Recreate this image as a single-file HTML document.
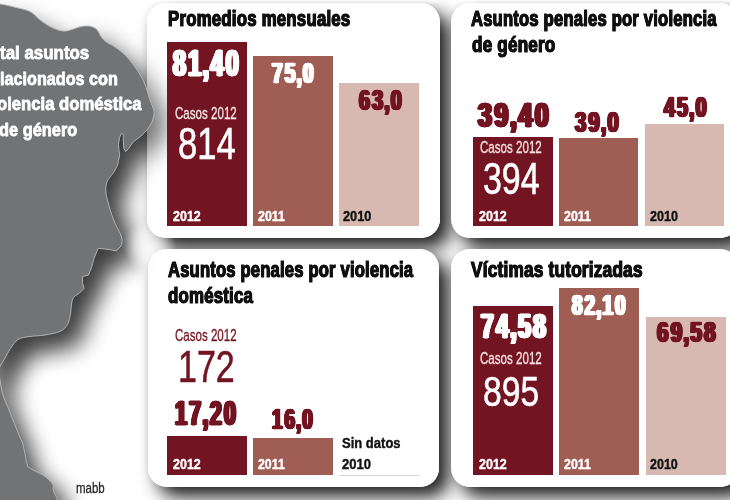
<!DOCTYPE html>
<html><head><meta charset="utf-8"><title>Violencia doméstica y de género</title>
<style>
html,body{margin:0;padding:0;background:#fff}
#c{position:relative;width:730px;height:500px;overflow:hidden;background:#fff;font-family:"Liberation Sans",sans-serif}
.t{position:absolute;white-space:nowrap;line-height:1;transform-origin:0 0;margin:0}
.b{position:absolute}
.p{position:absolute;background:#fff;border-radius:19px}
.ps{position:absolute;border-radius:19px;box-shadow:10px 10px 18px rgba(0,0,0,.88),0 0 7px rgba(0,0,0,.07)}
svg{position:absolute;left:0;top:0}
</style></head><body>
<div id="c">
<svg width="730" height="500" viewBox="0 0 730 500">
<defs><filter id="ds" x="-20%" y="-10%" width="180%" height="130%">
<feGaussianBlur in="SourceAlpha" stdDeviation="12"/><feOffset dx="13" dy="13"/>
<feComponentTransfer><feFuncA type="linear" slope="0.5"/></feComponentTransfer></filter>
<filter id="ds2" x="-20%" y="-10%" width="180%" height="130%">
<feGaussianBlur in="SourceAlpha" stdDeviation="12"/><feOffset dx="13" dy="13"/>
<feComponentTransfer><feFuncA type="linear" slope="0.55"/></feComponentTransfer></filter>
<linearGradient id="mg" x1="0" y1="0" x2="0" y2="500" gradientUnits="userSpaceOnUse"><stop offset="0.02" stop-color="#fff" stop-opacity="0.35"/><stop offset="0.22" stop-color="#fff" stop-opacity="1"/></linearGradient>
<radialGradient id="rg" cx="149" cy="246" r="26" gradientUnits="userSpaceOnUse"><stop offset="0" stop-color="#000" stop-opacity="0.75"/><stop offset="0.45" stop-color="#000" stop-opacity="0.6"/><stop offset="1" stop-color="#000" stop-opacity="0"/></radialGradient>
<mask id="mk" maskUnits="userSpaceOnUse" x="0" y="0" width="730" height="500"><rect x="0" y="0" width="730" height="500" fill="url(#mg)"/><rect x="110" y="210" width="80" height="80" fill="url(#rg)"/></mask></defs>
<g mask="url(#mk)"><path d="M-20,2 C-16.7,2.3 -6.0,3.1 0,4 C6.0,4.9 11.0,6.2 16,7.5 C21.0,8.8 26.1,9.5 30,11.5 C33.9,13.5 36.3,17.1 39.5,19.5 C42.7,21.9 45.8,24.2 49,26 C52.2,27.8 56.2,29.5 59,30.3 C61.8,31.1 63.5,31.2 66,31 C68.5,30.8 71.3,29.6 74,28.8 C76.7,28.0 79.2,26.7 82,26.3 C84.8,25.9 88.0,25.8 90.5,26.3 C93.0,26.9 95.4,28.1 97,29.6 C98.6,31.1 99.0,33.4 100.3,35.3 C101.6,37.2 102.5,39.0 105,41 C107.5,43.0 111.7,44.7 115,47 C118.3,49.3 121.7,51.7 125,55 C128.3,58.3 131.8,62.5 135,67 C138.2,71.5 141.5,76.5 144,82 C146.5,87.5 148.4,95.3 150,100 C151.6,104.7 153.2,107.3 153.8,110 C154.4,112.7 154.2,113.8 153.8,116 C153.4,118.2 152.6,120.8 151.4,123.2 C150.2,125.6 148.4,128.2 146.6,130.4 C144.8,132.6 142.8,134.5 140.6,136.4 C138.4,138.3 135.4,139.8 133.4,141.8 C131.4,143.8 129.9,146.8 128.6,148.4 L125.6,151.6 L123.9,148.4 L123.3,141.2 L123.2,134.2 L121.4,133.4 L119.6,137.6 L118.4,144.8 L119,150.8 C119.2,152.6 119.7,154.0 119.6,155.6 C119.5,157.2 118.8,158.8 118.4,160.4 C118.0,162.1 118.1,163.5 117.3,165.5 C116.5,167.5 115.1,170.2 113.5,172.6 C111.9,175.0 109.1,177.8 107.8,180.2 C106.5,182.6 106.2,184.4 105.9,186.9 C105.7,189.4 105.8,192.4 106.3,195.4 C106.8,198.4 107.9,201.7 108.8,204.9 C109.7,208.1 110.5,211.2 111.6,214.4 C112.7,217.6 114.0,220.7 115.4,223.9 C116.8,227.1 119.1,230.7 120.2,233.4 C121.3,236.1 121.9,238.0 122.1,240.1 C122.2,242.2 122.0,244.0 121.1,245.8 L116.4,250.9 L109.7,249.6 L98.3,248.3 L94.5,257 C93.4,260.2 92.5,264.5 91.5,267.5 L88.5,275 L82.5,276.5 L82.5,282.5 L84,288.5 L79.5,293 C77.8,294.5 74.8,295.5 73.5,297.5 C72.2,299.5 71.9,302.2 71.4,305 C70.9,307.8 71.2,310.8 70.5,314 C69.8,317.2 69.2,321.6 67.5,324.5 C65.8,327.4 63.8,329.6 60,331.4 C56.2,333.1 50.0,334.1 45,335 C40.0,335.9 34.5,335.8 30,336.5 C25.5,337.2 21.2,337.5 18,339.5 C14.8,341.5 12.8,345.2 10.5,348.5 C8.2,351.8 6.3,356.0 4.5,359 C2.7,362.0 1.1,364.2 -0.125,366.5 C-1.3,368.8 -2.2,370.8 -2.75,373 C-3.3,375.2 -3.6,376.3 -3.5,380 C-3.4,383.7 -3.2,390.0 -2,395 C-0.8,400.0 2.3,405.8 4,410 C5.7,414.2 6.3,415.8 8,420 C9.7,424.2 12.3,430.9 14,435 C15.7,439.1 16.8,440.2 18,444.7 C19.2,449.2 20.7,458.3 21.5,462 L23,467 L31,471.5 C33.7,473.0 36.6,473.9 39.4,476 C42.2,478.1 46.1,481.6 47.6,484 C49.1,486.4 47.6,488.0 48.4,490.7 C49.2,493.4 51.4,495.9 52.5,500 C53.6,504.1 54.6,512.5 55,515 L-20,515Z" fill="#000" filter="url(#ds)"/></g>
</svg>
<div class="ps" style="left:147px;top:2.5px;width:292.5px;height:235.8px"></div><div class="ps" style="left:451.3px;top:2.5px;width:287.5px;height:235.8px"></div><div class="ps" style="left:148px;top:248.7px;width:291.3px;height:238.3px"></div><div class="ps" style="left:451.3px;top:248.7px;width:287.5px;height:238.3px"></div>
<div class="b" style="left:128px;top:222px;width:48px;height:48px;background:radial-gradient(circle closest-side,rgba(255,255,255,.55) 0,rgba(255,255,255,.4) 45%,rgba(255,255,255,0) 100%)"></div>
<div class="p" style="left:147px;top:2.5px;width:292.5px;height:235.8px"></div><div class="p" style="left:451.3px;top:2.5px;width:287.5px;height:235.8px"></div><div class="p" style="left:148px;top:248.7px;width:291.3px;height:238.3px"></div><div class="p" style="left:451.3px;top:248.7px;width:287.5px;height:238.3px"></div>
<svg width="730" height="500" viewBox="0 0 730 500">
<g mask="url(#mk)"><path d="M-20,2 C-16.7,2.3 -6.0,3.1 0,4 C6.0,4.9 11.0,6.2 16,7.5 C21.0,8.8 26.1,9.5 30,11.5 C33.9,13.5 36.3,17.1 39.5,19.5 C42.7,21.9 45.8,24.2 49,26 C52.2,27.8 56.2,29.5 59,30.3 C61.8,31.1 63.5,31.2 66,31 C68.5,30.8 71.3,29.6 74,28.8 C76.7,28.0 79.2,26.7 82,26.3 C84.8,25.9 88.0,25.8 90.5,26.3 C93.0,26.9 95.4,28.1 97,29.6 C98.6,31.1 99.0,33.4 100.3,35.3 C101.6,37.2 102.5,39.0 105,41 C107.5,43.0 111.7,44.7 115,47 C118.3,49.3 121.7,51.7 125,55 C128.3,58.3 131.8,62.5 135,67 C138.2,71.5 141.5,76.5 144,82 C146.5,87.5 148.4,95.3 150,100 C151.6,104.7 153.2,107.3 153.8,110 C154.4,112.7 154.2,113.8 153.8,116 C153.4,118.2 152.6,120.8 151.4,123.2 C150.2,125.6 148.4,128.2 146.6,130.4 C144.8,132.6 142.8,134.5 140.6,136.4 C138.4,138.3 135.4,139.8 133.4,141.8 C131.4,143.8 129.9,146.8 128.6,148.4 L125.6,151.6 L123.9,148.4 L123.3,141.2 L123.2,134.2 L121.4,133.4 L119.6,137.6 L118.4,144.8 L119,150.8 C119.2,152.6 119.7,154.0 119.6,155.6 C119.5,157.2 118.8,158.8 118.4,160.4 C118.0,162.1 118.1,163.5 117.3,165.5 C116.5,167.5 115.1,170.2 113.5,172.6 C111.9,175.0 109.1,177.8 107.8,180.2 C106.5,182.6 106.2,184.4 105.9,186.9 C105.7,189.4 105.8,192.4 106.3,195.4 C106.8,198.4 107.9,201.7 108.8,204.9 C109.7,208.1 110.5,211.2 111.6,214.4 C112.7,217.6 114.0,220.7 115.4,223.9 C116.8,227.1 119.1,230.7 120.2,233.4 C121.3,236.1 121.9,238.0 122.1,240.1 C122.2,242.2 122.0,244.0 121.1,245.8 L116.4,250.9 L109.7,249.6 L98.3,248.3 L94.5,257 C93.4,260.2 92.5,264.5 91.5,267.5 L88.5,275 L82.5,276.5 L82.5,282.5 L84,288.5 L79.5,293 C77.8,294.5 74.8,295.5 73.5,297.5 C72.2,299.5 71.9,302.2 71.4,305 C70.9,307.8 71.2,310.8 70.5,314 C69.8,317.2 69.2,321.6 67.5,324.5 C65.8,327.4 63.8,329.6 60,331.4 C56.2,333.1 50.0,334.1 45,335 C40.0,335.9 34.5,335.8 30,336.5 C25.5,337.2 21.2,337.5 18,339.5 C14.8,341.5 12.8,345.2 10.5,348.5 C8.2,351.8 6.3,356.0 4.5,359 C2.7,362.0 1.1,364.2 -0.125,366.5 C-1.3,368.8 -2.2,370.8 -2.75,373 C-3.3,375.2 -3.6,376.3 -3.5,380 C-3.4,383.7 -3.2,390.0 -2,395 C-0.8,400.0 2.3,405.8 4,410 C5.7,414.2 6.3,415.8 8,420 C9.7,424.2 12.3,430.9 14,435 C15.7,439.1 16.8,440.2 18,444.7 C19.2,449.2 20.7,458.3 21.5,462 L23,467 L31,471.5 C33.7,473.0 36.6,473.9 39.4,476 C42.2,478.1 46.1,481.6 47.6,484 C49.1,486.4 47.6,488.0 48.4,490.7 C49.2,493.4 51.4,495.9 52.5,500 C53.6,504.1 54.6,512.5 55,515 L-20,515Z" fill="#000" filter="url(#ds2)"/></g>
<path d="M-20,2 C-16.7,2.3 -6.0,3.1 0,4 C6.0,4.9 11.0,6.2 16,7.5 C21.0,8.8 26.1,9.5 30,11.5 C33.9,13.5 36.3,17.1 39.5,19.5 C42.7,21.9 45.8,24.2 49,26 C52.2,27.8 56.2,29.5 59,30.3 C61.8,31.1 63.5,31.2 66,31 C68.5,30.8 71.3,29.6 74,28.8 C76.7,28.0 79.2,26.7 82,26.3 C84.8,25.9 88.0,25.8 90.5,26.3 C93.0,26.9 95.4,28.1 97,29.6 C98.6,31.1 99.0,33.4 100.3,35.3 C101.6,37.2 102.5,39.0 105,41 C107.5,43.0 111.7,44.7 115,47 C118.3,49.3 121.7,51.7 125,55 C128.3,58.3 131.8,62.5 135,67 C138.2,71.5 141.5,76.5 144,82 C146.5,87.5 148.4,95.3 150,100 C151.6,104.7 153.2,107.3 153.8,110 C154.4,112.7 154.2,113.8 153.8,116 C153.4,118.2 152.6,120.8 151.4,123.2 C150.2,125.6 148.4,128.2 146.6,130.4 C144.8,132.6 142.8,134.5 140.6,136.4 C138.4,138.3 135.4,139.8 133.4,141.8 C131.4,143.8 129.9,146.8 128.6,148.4 L125.6,151.6 L123.9,148.4 L123.3,141.2 L123.2,134.2 L121.4,133.4 L119.6,137.6 L118.4,144.8 L119,150.8 C119.2,152.6 119.7,154.0 119.6,155.6 C119.5,157.2 118.8,158.8 118.4,160.4 C118.0,162.1 118.1,163.5 117.3,165.5 C116.5,167.5 115.1,170.2 113.5,172.6 C111.9,175.0 109.1,177.8 107.8,180.2 C106.5,182.6 106.2,184.4 105.9,186.9 C105.7,189.4 105.8,192.4 106.3,195.4 C106.8,198.4 107.9,201.7 108.8,204.9 C109.7,208.1 110.5,211.2 111.6,214.4 C112.7,217.6 114.0,220.7 115.4,223.9 C116.8,227.1 119.1,230.7 120.2,233.4 C121.3,236.1 121.9,238.0 122.1,240.1 C122.2,242.2 122.0,244.0 121.1,245.8 L116.4,250.9 L109.7,249.6 L98.3,248.3 L94.5,257 C93.4,260.2 92.5,264.5 91.5,267.5 L88.5,275 L82.5,276.5 L82.5,282.5 L84,288.5 L79.5,293 C77.8,294.5 74.8,295.5 73.5,297.5 C72.2,299.5 71.9,302.2 71.4,305 C70.9,307.8 71.2,310.8 70.5,314 C69.8,317.2 69.2,321.6 67.5,324.5 C65.8,327.4 63.8,329.6 60,331.4 C56.2,333.1 50.0,334.1 45,335 C40.0,335.9 34.5,335.8 30,336.5 C25.5,337.2 21.2,337.5 18,339.5 C14.8,341.5 12.8,345.2 10.5,348.5 C8.2,351.8 6.2,356.0 4.5,359 C2.8,362.0 0.9,364.2 0,366.5 C-0.9,368.8 -1.0,370.8 -1,373 C-1.0,375.2 -0.7,376.3 0,380 C0.7,383.7 1.5,390.0 3,395 C4.5,400.0 7.3,405.8 9,410 C10.7,414.2 11.3,415.8 13,420 C14.7,424.2 17.3,430.9 19,435 C20.7,439.1 21.8,440.2 23,444.7 C24.2,449.2 25.7,458.3 26.5,462 L28,467 L36,471.5 C38.7,473.0 41.6,473.9 44.4,476 C47.2,478.1 51.1,481.6 52.6,484 C54.1,486.4 52.6,488.0 53.4,490.7 C54.2,493.4 56.4,495.9 57.5,500 C58.6,504.1 59.6,512.5 60,515 L-20,515Z" fill="#727375" stroke="#bcbcbc" stroke-width="0.9" stroke-linejoin="round"/>
</svg>
<div class="b" style="left:167px;top:42px;width:79.8px;height:184.3px;background:#731422"></div><div class="b" style="left:253.1px;top:56.2px;width:79.8px;height:170.1px;background:#a05d54"></div><div class="b" style="left:339.3px;top:83.4px;width:79.3px;height:142.9px;background:#d7b9b1"></div><div class="b" style="left:472.6px;top:136.6px;width:80px;height:89.7px;background:#731422"></div><div class="b" style="left:558.5px;top:138px;width:79.6px;height:88.3px;background:#a05d54"></div><div class="b" style="left:644.7px;top:124px;width:79.6px;height:102.3px;background:#d7b9b1"></div><div class="b" style="left:167px;top:436.2px;width:79.6px;height:38.4px;background:#731422"></div><div class="b" style="left:253px;top:438.3px;width:80px;height:36.3px;background:#a05d54"></div><div class="b" style="left:338.5px;top:474.6px;width:81px;height:1px;background:#d9d9d9"></div><div class="b" style="left:473px;top:305.7px;width:80px;height:169px;background:#731422"></div><div class="b" style="left:559.3px;top:288.4px;width:80px;height:186.3px;background:#a05d54"></div><div class="b" style="left:645.5px;top:317px;width:80px;height:157.7px;background:#d7b9b1"></div><div class="t" style="left:168.06px;top:7px;font-size:21.16px;line-height:23px;transform:scaleX(0.7955);color:#111;font-weight:bold;-webkit-text-stroke:1.2px #111;letter-spacing:0.25px;text-shadow:0.35px 0 0 #111,-0.35px 0 0 #111;">Promedios mensuales</div><div class="t" style="left:471.43px;top:7px;font-size:21.16px;line-height:23px;transform:scaleX(0.7850);color:#111;font-weight:bold;-webkit-text-stroke:1.2px #111;letter-spacing:0.25px;text-shadow:0.35px 0 0 #111,-0.35px 0 0 #111;">Asuntos penales por violencia</div><div class="t" style="left:471.58px;top:33px;font-size:21.16px;line-height:23px;transform:scaleX(0.8079);color:#111;font-weight:bold;-webkit-text-stroke:1.2px #111;letter-spacing:0.25px;text-shadow:0.35px 0 0 #111,-0.35px 0 0 #111;">de género</div><div class="t" style="left:168.33px;top:258px;font-size:21.16px;line-height:23px;transform:scaleX(0.7838);color:#111;font-weight:bold;-webkit-text-stroke:1.2px #111;letter-spacing:0.25px;text-shadow:0.35px 0 0 #111,-0.35px 0 0 #111;">Asuntos penales por violencia</div><div class="t" style="left:168.28px;top:284px;font-size:21.16px;line-height:23px;transform:scaleX(0.7960);color:#111;font-weight:bold;-webkit-text-stroke:1.2px #111;letter-spacing:0.25px;text-shadow:0.35px 0 0 #111,-0.35px 0 0 #111;">doméstica</div><div class="t" style="left:471.10px;top:258px;font-size:21.16px;line-height:23px;transform:scaleX(0.8147);color:#111;font-weight:bold;-webkit-text-stroke:1.2px #111;letter-spacing:0.25px;text-shadow:0.35px 0 0 #111,-0.35px 0 0 #111;">Víctimas tutorizadas</div><div class="t" style="left:173.45px;top:42px;font-size:37.14px;line-height:42px;transform:scaleX(0.6249);color:#fff;font-weight:bold;-webkit-text-stroke:0.8px #fff;letter-spacing:3.6px;text-shadow:0.48px 0 0 #fff,-0.48px 0 0 #fff,0.96px 0 0 #fff,-0.96px 0 0 #fff,1.44px 0 0 #fff,-1.44px 0 0 #fff,1.92px 0 0 #fff,-1.92px 0 0 #fff,2.40px 0 0 #fff,-2.40px 0 0 #fff;">81<span style="margin:0 -1.2px">,</span>40</div><div class="t" style="left:272.34px;top:57px;font-size:28.71px;line-height:32px;transform:scaleX(0.6692);color:#fff;font-weight:bold;-webkit-text-stroke:0.7px #fff;letter-spacing:3.0px;text-shadow:0.47px 0 0 #fff,-0.47px 0 0 #fff,0.95px 0 0 #fff,-0.95px 0 0 #fff,1.42px 0 0 #fff,-1.42px 0 0 #fff,1.90px 0 0 #fff,-1.90px 0 0 #fff;">75<span style="margin:0 -1.4px">,</span>0</div><div class="t" style="left:359.36px;top:84px;font-size:28.71px;line-height:32px;transform:scaleX(0.6895);color:#731422;font-weight:bold;-webkit-text-stroke:0.7px #731422;letter-spacing:3.0px;text-shadow:0.47px 0 0 #731422,-0.47px 0 0 #731422,0.95px 0 0 #731422,-0.95px 0 0 #731422,1.42px 0 0 #731422,-1.42px 0 0 #731422,1.90px 0 0 #731422,-1.90px 0 0 #731422;">63<span style="margin:0 -1.4px">,</span>0</div><div class="t" style="left:478.22px;top:95px;font-size:35.86px;line-height:40px;transform:scaleX(0.6949);color:#731422;font-weight:bold;-webkit-text-stroke:0.8px #731422;letter-spacing:3.6px;text-shadow:0.48px 0 0 #731422,-0.48px 0 0 #731422,0.96px 0 0 #731422,-0.96px 0 0 #731422,1.44px 0 0 #731422,-1.44px 0 0 #731422,1.92px 0 0 #731422,-1.92px 0 0 #731422,2.40px 0 0 #731422,-2.40px 0 0 #731422;">39<span style="margin:0 -1.2px">,</span>40</div><div class="t" style="left:574.58px;top:106px;font-size:28.71px;line-height:32px;transform:scaleX(0.7050);color:#731422;font-weight:bold;-webkit-text-stroke:0.7px #731422;letter-spacing:3.0px;text-shadow:0.47px 0 0 #731422,-0.47px 0 0 #731422,0.95px 0 0 #731422,-0.95px 0 0 #731422,1.42px 0 0 #731422,-1.42px 0 0 #731422,1.90px 0 0 #731422,-1.90px 0 0 #731422;">39<span style="margin:0 -1.4px">,</span>0</div><div class="t" style="left:664.15px;top:91px;font-size:28.71px;line-height:32px;transform:scaleX(0.6849);color:#731422;font-weight:bold;-webkit-text-stroke:0.7px #731422;letter-spacing:3.0px;text-shadow:0.47px 0 0 #731422,-0.47px 0 0 #731422,0.95px 0 0 #731422,-0.95px 0 0 #731422,1.42px 0 0 #731422,-1.42px 0 0 #731422,1.90px 0 0 #731422,-1.90px 0 0 #731422;">45<span style="margin:0 -1.4px">,</span>0</div><div class="t" style="left:174.68px;top:393px;font-size:35.86px;line-height:40px;transform:scaleX(0.5982);color:#731422;font-weight:bold;-webkit-text-stroke:0.8px #731422;letter-spacing:3.6px;text-shadow:0.48px 0 0 #731422,-0.48px 0 0 #731422,0.96px 0 0 #731422,-0.96px 0 0 #731422,1.44px 0 0 #731422,-1.44px 0 0 #731422,1.92px 0 0 #731422,-1.92px 0 0 #731422,2.40px 0 0 #731422,-2.40px 0 0 #731422;">17<span style="margin:0 -1.2px">,</span>20</div><div class="t" style="left:272.35px;top:403px;font-size:28.71px;line-height:32px;transform:scaleX(0.6563);color:#731422;font-weight:bold;-webkit-text-stroke:0.7px #731422;letter-spacing:3.0px;text-shadow:0.47px 0 0 #731422,-0.47px 0 0 #731422,0.95px 0 0 #731422,-0.95px 0 0 #731422,1.42px 0 0 #731422,-1.42px 0 0 #731422,1.90px 0 0 #731422,-1.90px 0 0 #731422;">16<span style="margin:0 -1.4px">,</span>0</div><div class="t" style="left:481.46px;top:306px;font-size:35.86px;line-height:40px;transform:scaleX(0.6370);color:#fff;font-weight:bold;-webkit-text-stroke:0.8px #fff;letter-spacing:3.6px;text-shadow:0.48px 0 0 #fff,-0.48px 0 0 #fff,0.96px 0 0 #fff,-0.96px 0 0 #fff,1.44px 0 0 #fff,-1.44px 0 0 #fff,1.92px 0 0 #fff,-1.92px 0 0 #fff,2.40px 0 0 #fff,-2.40px 0 0 #fff;">74<span style="margin:0 -1.2px">,</span>58</div><div class="t" style="left:572.12px;top:289px;font-size:28.71px;line-height:32px;transform:scaleX(0.6613);color:#fff;font-weight:bold;-webkit-text-stroke:0.7px #fff;letter-spacing:3.0px;text-shadow:0.47px 0 0 #fff,-0.47px 0 0 #fff,0.95px 0 0 #fff,-0.95px 0 0 #fff,1.42px 0 0 #fff,-1.42px 0 0 #fff,1.90px 0 0 #fff,-1.90px 0 0 #fff;">82<span style="margin:0 -1.4px">,</span>10</div><div class="t" style="left:657.10px;top:316px;font-size:28.71px;line-height:32px;transform:scaleX(0.7223);color:#731422;font-weight:bold;-webkit-text-stroke:0.7px #731422;letter-spacing:3.0px;text-shadow:0.47px 0 0 #731422,-0.47px 0 0 #731422,0.95px 0 0 #731422,-0.95px 0 0 #731422,1.42px 0 0 #731422,-1.42px 0 0 #731422,1.90px 0 0 #731422,-1.90px 0 0 #731422;">69<span style="margin:0 -1.4px">,</span>58</div><div class="t" style="left:174.73px;top:104px;font-size:16.43px;line-height:18px;transform:scaleX(0.7045);color:#f4e3e1;-webkit-text-stroke:0.3px #f4e3e1;">Casos 2012</div><div class="t" style="left:480.23px;top:138px;font-size:16.29px;line-height:18px;transform:scaleX(0.7106);color:#f4e3e1;-webkit-text-stroke:0.3px #f4e3e1;">Casos 2012</div><div class="t" style="left:175.23px;top:326px;font-size:16.29px;line-height:18px;transform:scaleX(0.7083);color:#731422;-webkit-text-stroke:0.3px #731422;">Casos 2012</div><div class="t" style="left:480.23px;top:349px;font-size:16.29px;line-height:18px;transform:scaleX(0.7106);color:#f4e3e1;-webkit-text-stroke:0.3px #f4e3e1;">Casos 2012</div><div class="t" style="left:177.58px;top:120px;font-size:43.57px;line-height:48px;transform:scaleX(0.7942);color:#fff;-webkit-text-stroke:0.6px #fff;">814</div><div class="t" style="left:482.88px;top:155px;font-size:43.57px;line-height:48px;transform:scaleX(0.7789);color:#fff;-webkit-text-stroke:0.6px #fff;">394</div><div class="t" style="left:177.79px;top:343px;font-size:43.57px;line-height:48px;transform:scaleX(0.7799);color:#731422;-webkit-text-stroke:0.6px #731422;">172</div><div class="t" style="left:482.72px;top:367px;font-size:43.43px;line-height:48px;transform:scaleX(0.7758);color:#fff;-webkit-text-stroke:0.6px #fff;">895</div><div class="t" style="left:173.04px;top:208px;font-size:14.43px;line-height:16px;transform:scaleX(0.8657);color:#fff;font-weight:bold;-webkit-text-stroke:0.4px #fff;">2012</div><div class="t" style="left:258.34px;top:208px;font-size:14.43px;line-height:16px;transform:scaleX(0.8624);color:#fff;font-weight:bold;-webkit-text-stroke:0.4px #fff;">2011</div><div class="t" style="left:343.13px;top:208px;font-size:14.43px;line-height:16px;transform:scaleX(0.8847);color:#111;font-weight:bold;-webkit-text-stroke:0.4px #111;">2010</div><div class="t" style="left:478.94px;top:208px;font-size:14.43px;line-height:16px;transform:scaleX(0.8657);color:#fff;font-weight:bold;-webkit-text-stroke:0.4px #fff;">2012</div><div class="t" style="left:564.24px;top:208px;font-size:14.43px;line-height:16px;transform:scaleX(0.8624);color:#fff;font-weight:bold;-webkit-text-stroke:0.4px #fff;">2011</div><div class="t" style="left:649.73px;top:208px;font-size:14.43px;line-height:16px;transform:scaleX(0.8720);color:#111;font-weight:bold;-webkit-text-stroke:0.4px #111;">2010</div><div class="t" style="left:172.94px;top:456px;font-size:14.43px;line-height:16px;transform:scaleX(0.8657);color:#fff;font-weight:bold;-webkit-text-stroke:0.4px #fff;">2012</div><div class="t" style="left:258.34px;top:456px;font-size:14.43px;line-height:16px;transform:scaleX(0.8559);color:#fff;font-weight:bold;-webkit-text-stroke:0.4px #fff;">2011</div><div class="t" style="left:342.32px;top:456px;font-size:14.43px;line-height:16px;transform:scaleX(0.9038);color:#111;font-weight:bold;-webkit-text-stroke:0.4px #111;">2010</div><div class="t" style="left:478.94px;top:456px;font-size:14.43px;line-height:16px;transform:scaleX(0.8657);color:#fff;font-weight:bold;-webkit-text-stroke:0.4px #fff;">2012</div><div class="t" style="left:564.04px;top:456px;font-size:14.43px;line-height:16px;transform:scaleX(0.8592);color:#fff;font-weight:bold;-webkit-text-stroke:0.4px #fff;">2011</div><div class="t" style="left:649.64px;top:456px;font-size:14.43px;line-height:16px;transform:scaleX(0.8657);color:#111;font-weight:bold;-webkit-text-stroke:0.4px #111;">2010</div><div class="t" style="left:342.18px;top:434px;font-size:15.0px;line-height:17px;transform:scaleX(0.8676);color:#111;font-weight:bold;-webkit-text-stroke:0.4px #111;">Sin datos</div><div class="t" style="left:0.49px;top:42px;font-size:18.76px;line-height:21px;transform:scaleX(0.9019);color:#fff;font-weight:bold;-webkit-text-stroke:0.8px #fff;">tal asuntos</div><div class="t" style="left:-0.19px;top:68px;font-size:18.76px;line-height:21px;transform:scaleX(0.8634);color:#fff;font-weight:bold;-webkit-text-stroke:0.8px #fff;">lacionados con</div><div class="t" style="left:-2.81px;top:93px;font-size:18.76px;line-height:21px;transform:scaleX(0.8895);color:#fff;font-weight:bold;-webkit-text-stroke:0.8px #fff;">olencia doméstica</div><div class="t" style="left:-0.61px;top:119px;font-size:18.76px;line-height:21px;transform:scaleX(0.8734);color:#fff;font-weight:bold;-webkit-text-stroke:0.8px #fff;">de género</div><div class="t" style="left:76.47px;top:480px;font-size:14.48px;line-height:16px;transform:scaleX(0.7946);color:#2a2a2a;-webkit-text-stroke:0.3px #2a2a2a;">mabb</div>
<div class="b" style="left:140px;top:0;width:590px;height:4px;background:linear-gradient(rgba(255,255,255,.75),rgba(255,255,255,0))"></div>
</div>
</body></html>
